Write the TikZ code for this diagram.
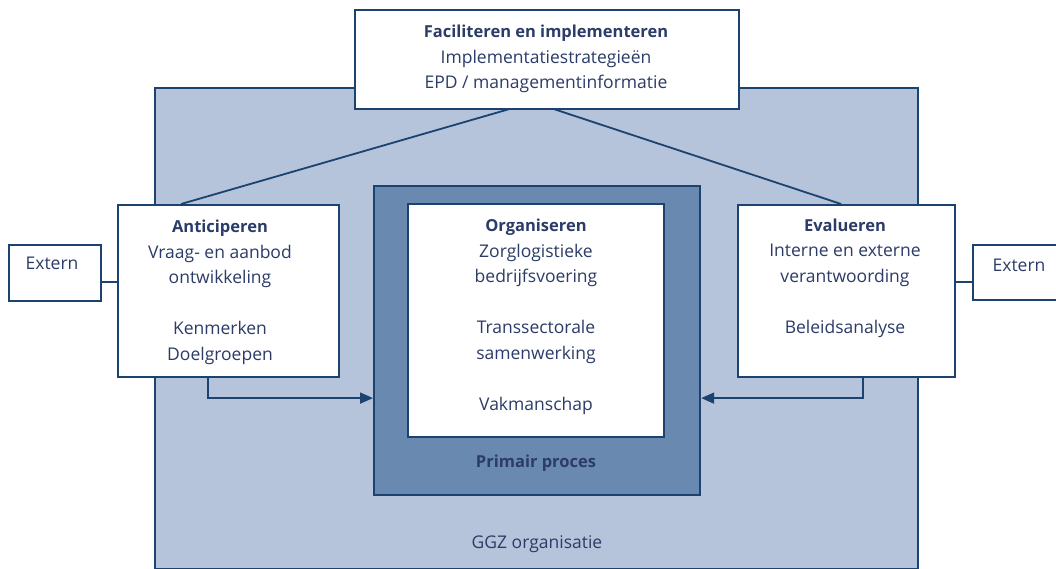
\documentclass[tikz,border=0pt]{standalone}
\usepackage{fontspec}
\setmainfont{Open Sans}
\usetikzlibrary{arrows.meta}
\definecolor{navy}{HTML}{1C4270}
\definecolor{lightfill}{HTML}{B5C4DA}
\definecolor{midfill}{HTML}{6A89B0}
\definecolor{textcol}{HTML}{2C3C68}
% bold heading line inside a box
\newcommand\boxhead[1]{{\fontsize{16.5}{25.5}\selectfont\bfseries #1}}
\tikzset{
  frame/.style={draw=navy, line width=2.2pt, inner sep=0pt, anchor=north west},
  whitebox/.style={frame, fill=white},
  label/.style={text=textcol, align=center, anchor=base, inner sep=0pt,
    font=\fontsize{17.5}{25.5}\selectfont},
  link/.style={draw=navy, line width=1.8pt},
  arr/.style={link, -{Triangle[length=13pt,width=11pt]}},
}
\begin{document}
\begin{tikzpicture}[x=1pt, y=-1pt]
  \useasboundingbox (0,0) rectangle (1056,569);
  \clip (0,0) rectangle (1056,569);

  % organisation frame
  \node[frame, fill=lightfill, minimum width=763, minimum height=481] (ggz) at (154,87) {};

  % boxes of the activities
  \node[whitebox, minimum width=384, minimum height=99] (fac) at (354,9) {};
  \node[whitebox, minimum width=221, minimum height=172] (ant) at (117,204) {};
  \node[whitebox, minimum width=217, minimum height=172] (eva) at (737,204) {};

  % lines from the facilitating box down to the two side boxes
  \draw[link] ([xshift=-14pt, yshift=8pt]fac.south) -- ([xshift=-47.5pt]ant.north);
  \draw[link] ([xshift=-14pt, yshift=8pt]fac.south) -- ([xshift=-5.5pt]eva.north);
  \node[whitebox, minimum width=384, minimum height=99] (fac) at (354,9) {};

  % external boxes
  \node[whitebox, minimum width=92, minimum height=56] (extL) at (8,244) {};
  \node[whitebox, minimum width=100, minimum height=55] (extR) at (972,244) {};
  \draw[link] ([yshift=-9pt]extL.east) -- ([yshift=-9pt]extL.east -| ant.west);
  \draw[link] ([yshift=-9.5pt]extR.west) -- ([yshift=-9.5pt]extR.west -| eva.east);

  % primary process
  \node[frame, fill=midfill, minimum width=326, minimum height=309] (prim) at (373,185) {};
  \node[whitebox, minimum width=256, minimum height=233] (org) at (407,203) {};

  % feeds into the primary process
  \draw[arr] ([xshift=-20.5pt]ant.south) |- ([yshift=-57.5pt]prim.west);
  \draw[arr] ([xshift=16.5pt]eva.south) |- ([yshift=-57.5pt]prim.east);

  % texts (each node sits on the baseline of its last line)
  \node[label] (tfac) at (546,89) {\boxhead{Faciliteren en implementeren}\\Implementatiestrategieën\\EPD / managementinformatie};
  \node[label] (tant) at (220,360) {\boxhead{Anticiperen}\\Vraag- en aanbod\\ontwikkeling\\[25.5pt]Kenmerken\\Doelgroepen};
  \node[label] (teva) at (845,333) {\boxhead{Evalueren}\\Interne en externe\\verantwoording\\[25.5pt]Beleidsanalyse};
  \node[label] (torg) at (536,410) {\boxhead{Organiseren}\\Zorglogistieke\\bedrijfsvoering\\[25.5pt]Transsectorale\\samenwerking\\[25.5pt]Vakmanschap};
  \node[label] (tprim) at (536,467) {\boxhead{Primair proces}};
  \node[label] (tggz) at (537,548) {GGZ organisatie};
  \node[label] (textL) at (52,269) {Extern};
  \node[label] (textR) at (1019,271) {Extern};
\end{tikzpicture}
\end{document}
